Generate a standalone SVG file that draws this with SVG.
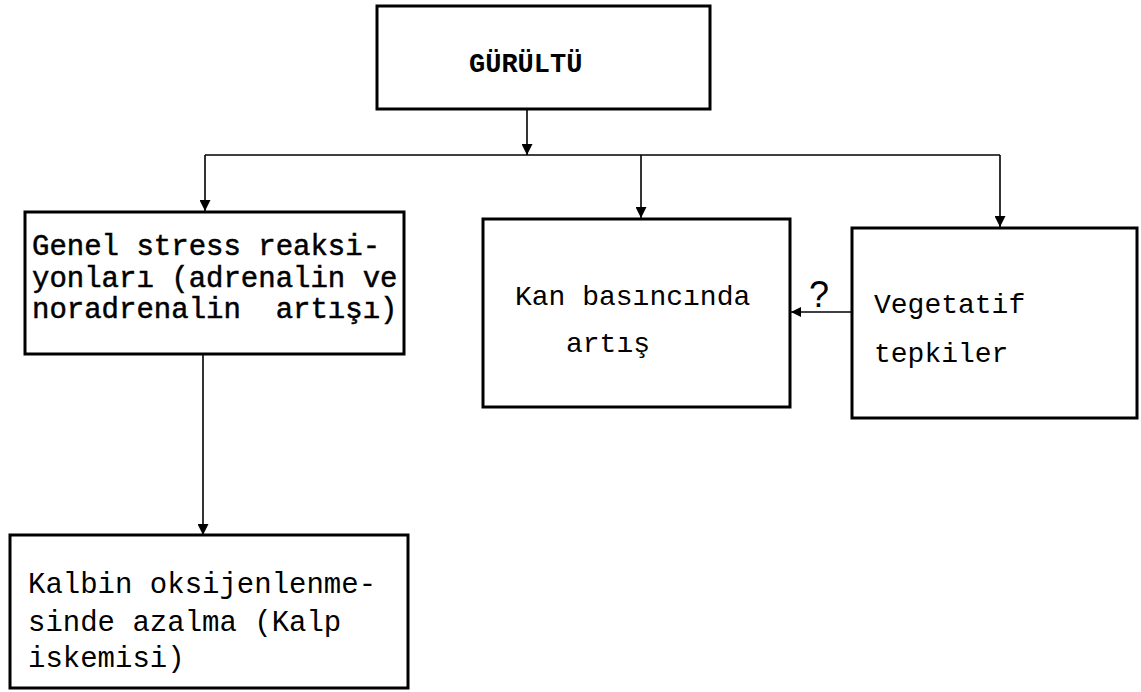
<svg xmlns="http://www.w3.org/2000/svg" width="1141" height="692" viewBox="0 0 1141 692">
<style>
.box{fill:#fff;stroke:#000;stroke-width:3}
.t{font-family:"Liberation Mono","DejaVu Sans Mono",monospace;font-size:29px;fill:#000;white-space:pre}
.b{font-weight:bold}
.g{stroke:#000;stroke-width:0.5}
.c{fill:none;stroke:#000;stroke-width:1.6}
</style>
<defs>
<marker id="ah" viewBox="0 0 10 10" refX="10" refY="5" markerWidth="10" markerHeight="10" markerUnits="userSpaceOnUse" orient="auto">
<path d="M0,0 L10,5 L0,10 Z" fill="#000"/>
</marker>
<marker id="ahv" viewBox="0 0 10 10" refX="10" refY="5" markerWidth="13" markerHeight="11" markerUnits="userSpaceOnUse" orient="auto">
<path d="M0,0 L10,5 L0,10 Z" fill="#000"/>
</marker>
</defs>
<g id="connectors">
<line class="c" x1="527" y1="110" x2="527" y2="155" marker-end="url(#ahv)"/>
<line class="c" x1="205" y1="155" x2="1000" y2="155"/>
<line class="c" x1="205" y1="155" x2="205" y2="211" marker-end="url(#ahv)"/>
<line class="c" x1="641" y1="155" x2="641" y2="218" marker-end="url(#ahv)"/>
<line class="c" x1="1000" y1="155" x2="1000" y2="227" marker-end="url(#ahv)"/>
<line class="c" x1="203" y1="354" x2="203" y2="535" marker-end="url(#ahv)"/>
<line class="c" x1="852" y1="312" x2="791" y2="312" marker-end="url(#ah)"/>
<text x="809" y="307" style="font-family:'Liberation Sans',Arial,sans-serif;font-size:36px">?</text>
</g>
<g id="gurultu">
<rect class="box" x="377" y="6" width="333" height="103"/>
<text class="t b" x="469" y="72" style="font-size:27px">GÜRÜLTÜ</text>
</g>
<g id="genel">
<rect class="box" x="25" y="212" width="379" height="142"/>
<text class="t g" x="32" y="255">Genel stress reaksi-</text>
<text class="t g" x="32" y="287">yonları (adrenalin ve</text>
<text class="t g" x="32" y="318" xml:space="preserve">noradrenalin  artışı)</text>
</g>
<g id="kan">
<rect class="box" x="483" y="219" width="307" height="188"/>
<text class="t" x="515" y="305" style="font-size:28px">Kan basıncında</text>
<text class="t" x="566" y="352" style="font-size:28px">artış</text>
</g>
<g id="vegetatif">
<rect class="box" x="852" y="228" width="285" height="190"/>
<text class="t" x="874" y="313" style="font-size:28px">Vegetatif</text>
<text class="t" x="874" y="362" style="font-size:28px">tepkiler</text>
</g>
<g id="kalbin">
<rect class="box" x="10" y="535" width="398" height="153"/>
<text class="t" x="28" y="593">Kalbin oksijenlenme-</text>
<text class="t" x="28" y="631">sinde azalma (Kalp</text>
<text class="t" x="28" y="667">iskemisi)</text>
</g>
</svg>
